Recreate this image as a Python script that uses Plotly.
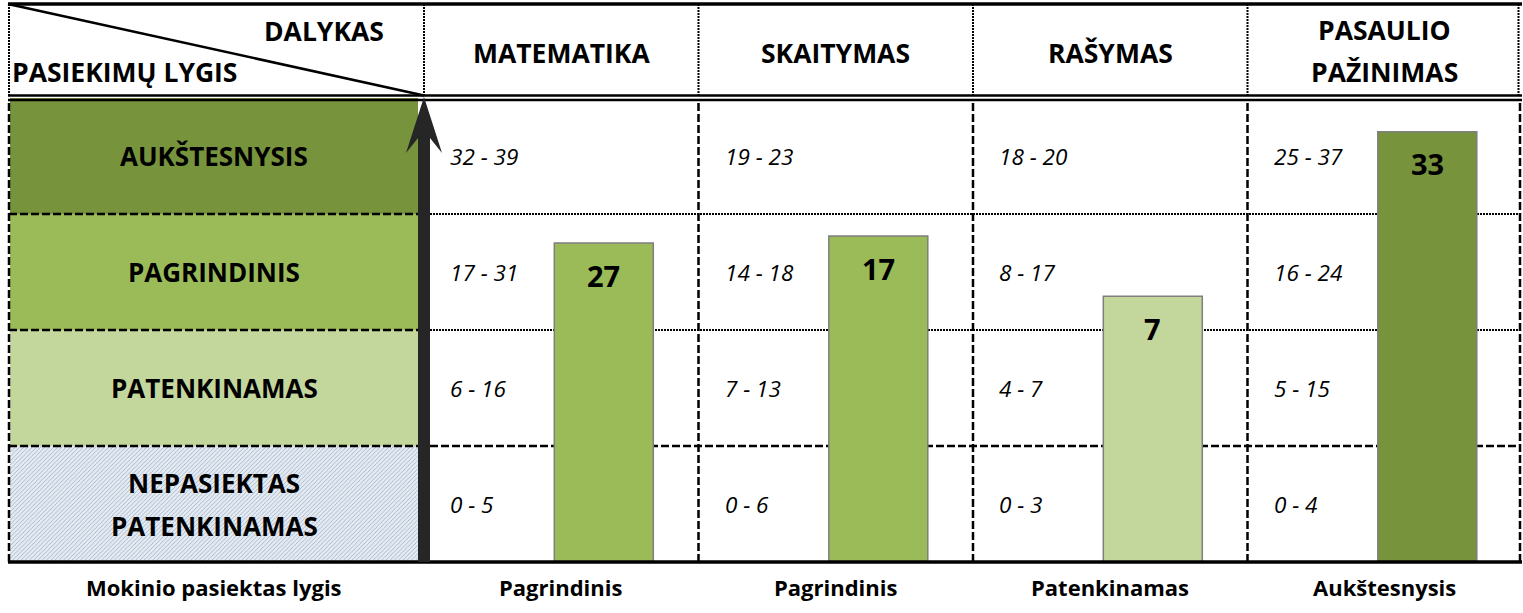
import plotly.graph_objects as go

# ---------------- data ----------------
subjects = ["MATEMATIKA", "SKAITYMAS", "RAŠYMAS", "PASAULIO<br>PAŽINIMAS"]
levels = ["NEPASIEKTAS<br>PATENKINAMAS", "PATENKINAMAS", "PAGRINDINIS", "AUKŠTESNYSIS"]  # bottom -> top
level_colors = ["#DCE6F2", "#C3D69B", "#9BBB59", "#77933C"]
score_ranges = [
    ["0 - 5", "6 - 16", "17 - 31", "32 - 39"],
    ["0 - 6", "7 - 13", "14 - 18", "19 - 23"],
    ["0 - 3", "4 - 7", "8 - 17", "18 - 20"],
    ["0 - 4", "5 - 15", "16 - 24", "25 - 37"],
]
student_scores = [27, 17, 7, 33]
bar_heights = [2.75, 2.81, 2.29, 3.71]          # drawn height in level-band units
achieved_level_idx = [2, 2, 1, 3]
achieved_levels = ["Pagrindinis", "Pagrindinis", "Patenkinamas", "Aukštesnysis"]
corner_top = "DALYKAS"
corner_bottom = "PASIEKIMŲ LYGIS"
bottom_title = "Mokinio pasiektas lygis"

# ---------------- geometry helpers (layout only) ----------------
X0, CW = 424.0, 274.5      # pixel of x=0, pixels per subject column
Y0, RH = 562.0, 116.0      # pixel of y=0, pixels per level band
W, H = 1523, 613


def px_x(p):
    return (p - X0) / CW


def px_y(p):
    return (Y0 - p) / RH


BOLD = "Open Sans"
ITAL = "Open Sans"
fs_head = 26.5
fs_row = 26
fs_range = 22.5
fs_num = 29
fs_bottom = 22

fig = go.Figure()

n = len(subjects)
nl = len(levels)

# left column cells
fig.add_trace(go.Bar(
    x=[px_x(214)] * nl, y=[1] * nl, base=list(range(nl)),
    width=408 / CW,
    marker=dict(color=["#E2EBF6"] + level_colors[1:], line=dict(width=0),
                pattern=dict(shape=["/", "", "", ""], fgcolor="#D0DEF0",
                             size=3, solidity=0.2)),
    hoverinfo="skip", showlegend=False,
))

# student bars
fig.add_trace(go.Bar(
    x=[i + 0.655 for i in range(n)], y=bar_heights,
    width=99 / CW,
    marker=dict(color=[level_colors[k] for k in achieved_level_idx],
                line=dict(color="#7F7F7F", width=1.5)),
    hoverinfo="skip", showlegend=False,
))

shapes = []


def line(x0, y0, x1, y1, width=2.5, dash="solid", color="black", layer="below"):
    shapes.append(dict(type="line", xref="x", yref="y", x0=x0, y0=y0, x1=x1, y1=y1,
                       line=dict(color=color, width=width, dash=dash), layer=layer))


DOT = "2px,1px"
DASH = "8px,3px"
hdr_top = px_y(4)
hdr_b1 = px_y(95.5)
hdr_b2 = px_y(100)
left_edge = px_x(9)
right_edge = px_x(1520)

# header borders
line(px_x(8), hdr_top, px_x(1522), hdr_top, width=3.5, layer="above")
line(px_x(8), hdr_b1, px_x(1522), hdr_b1, width=2.5, layer="above")
line(px_x(8), hdr_b2, px_x(1522), hdr_b2, width=2.5, layer="above")
for xv in [left_edge, 0] + list(range(1, n)) + [px_x(1518.5)]:
    line(xv, hdr_top, xv, hdr_b1, width=2, dash=DOT)
# diagonal
line(px_x(8), hdr_top, 0, hdr_b1, width=2.5, layer="above")

# body verticals
for xv in [left_edge] + list(range(1, n)) + [right_edge]:
    line(xv, 0, xv, hdr_b2, width=2.5, dash=DASH, layer="above" if xv == left_edge else "below")
# body horizontals
for lv in range(1, nl):
    line(left_edge, lv, px_x(418), lv, width=2.5, dash=DASH, layer="above")
    line(px_x(430), lv, right_edge, lv, width=2 if lv > 1 else 2.5,
         dash=DOT if lv > 1 else DASH)
# bottom border
line(px_x(8), 0, px_x(1522), 0, width=3.5, layer="above")

# arrow
ax_l, ax_r, ax_c = px_x(418), px_x(430), 0
pts = [(ax_l, 0), (ax_l, px_y(138)), (px_x(406), px_y(153)), (ax_c, px_y(97)),
       (px_x(442), px_y(153)), (ax_r, px_y(138)), (ax_r, 0)]
path = "M " + " L ".join(f"{a},{b}" for a, b in pts) + " Z"
shapes.append(dict(type="path", xref="x", yref="y", path=path,
                   fillcolor="#262626", line=dict(width=0), layer="above"))

ann = []


def text(x, y, s, size, bold=True, italic=False, xanchor="center", yshift=0, spacing=42):
    lines = s.split("<br>")
    k = len(lines)
    for j, t in enumerate(lines):
        off = ((k - 1) / 2 - j) * spacing
        tt = f"<b>{t}</b>" if bold else t
        if italic:
            tt = f"<i>{tt}</i>"
        ann.append(dict(x=x, y=y, xref="x", yref="y", text=tt, showarrow=False,
                        xanchor=xanchor, yanchor="middle", yshift=yshift + off,
                        font=dict(family=ITAL if italic else BOLD, size=size, color="black")))


# header
for i, s in enumerate(subjects):
    text(i + 0.5, px_y(53) if "<br>" not in s else px_y(51), s, fs_head)
text(px_x(386), px_y(31), corner_top, fs_head, xanchor="right")
text(px_x(10), px_y(72), corner_bottom, fs_head, xanchor="left")

# row labels
for lv, s in enumerate(levels):
    text(px_x(214), lv + 0.5, s, fs_row, spacing=43)

# score ranges
for i in range(n):
    for lv in range(nl):
        text(i + 24 / CW, lv + 0.5, score_ranges[i][lv], fs_range, bold=False,
             italic=True, xanchor="left")

# bar values
for i in range(n):
    text(i + 0.655, bar_heights[i], str(student_scores[i]), fs_num, yshift=-32)

# bottom labels
text(px_x(214), px_y(587), bottom_title, fs_bottom)
for i in range(n):
    text(i + 0.5, px_y(587), achieved_levels[i], fs_bottom)

fig.update_layout(
    width=W, height=H, margin=dict(l=0, r=0, t=0, b=0),
    paper_bgcolor="white", plot_bgcolor="white",
    barmode="overlay", showlegend=False,
    xaxis=dict(range=[px_x(0), px_x(W)], visible=False, fixedrange=True),
    yaxis=dict(range=[px_y(H), px_y(0)], visible=False, fixedrange=True),
    shapes=shapes, annotations=ann,
)

fig.write_html("out.html", config={"displayModeBar": False},
               post_script="document.body.style.margin='0';document.body.style.overflow='hidden';")
